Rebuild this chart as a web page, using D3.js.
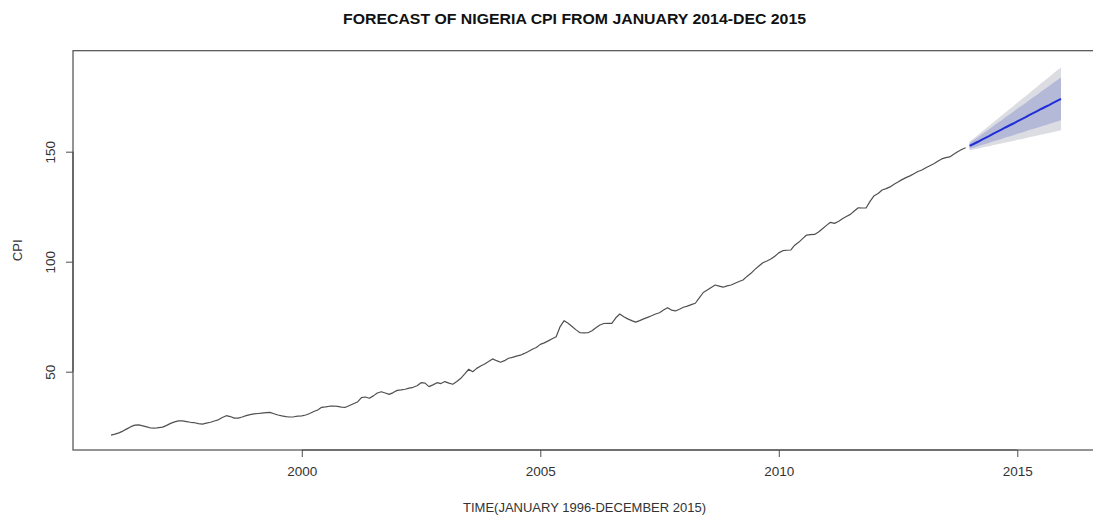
<!DOCTYPE html>
<html>
<head>
<meta charset="utf-8">
<script src="https://cdn.jsdelivr.net/npm/d3@7"></script>
<style>
  html, body { margin: 0; padding: 0; background: #fff; }
  svg { display: block; font-family: "Liberation Sans", Arial, sans-serif; }
</style>
</head>
<body>
<svg id="chart" width="1093" height="516"></svg>
<script>
// Monthly Nigeria CPI, January 1996 - December 2013
const startYear = 1996;
const cpiHistory = [
  // 1996
  21.2, 21.6, 22.2, 23.0, 24.0, 25.0, 25.7, 25.8, 25.4, 24.9, 24.4, 24.3,
  // 1997
  24.6, 24.8, 25.6, 26.5, 27.2, 27.6, 27.6, 27.3, 27.0, 26.8, 26.4, 26.2,
  // 1998
  26.6, 27.0, 27.6, 28.1, 29.2, 30.0, 29.6, 28.9, 28.9, 29.4, 30.0, 30.5,
  // 1999
  30.8, 31.0, 31.2, 31.4, 31.5, 30.9, 30.3, 29.9, 29.6, 29.4, 29.5, 29.8,
  // 2000
  29.9, 30.3, 31.0, 31.9, 32.6, 33.8, 34.0, 34.3, 34.4, 34.2, 33.9, 33.8,
  // 2001
  34.6, 35.4, 36.2, 38.2, 38.5, 37.9, 39.0, 40.3, 40.9, 40.3, 39.7, 40.5,
  // 2002
  41.5, 41.7, 42.0, 42.5, 42.9, 43.6, 45.0, 44.8, 43.2, 44.0, 45.0, 44.6,
  // 2003
  45.5, 44.8, 44.3, 45.5, 47.0, 49.0, 51.1, 50.0, 51.5, 52.6, 53.5, 54.6,
  // 2004
  55.8, 55.0, 54.3, 55.0, 56.1, 56.5, 57.1, 57.5, 58.3, 59.2, 60.2, 61.0,
  // 2005
  62.4, 63.1, 64.0, 65.0, 65.9, 70.5, 73.2, 72.0, 70.5, 69.0, 67.7, 67.6,
  // 2006
  67.7, 68.6, 70.0, 71.2, 71.9, 72.0, 72.0, 74.5, 76.2, 75.0, 74.0, 73.2,
  // 2007
  72.5, 73.2, 74.0, 74.7, 75.4, 76.2, 76.8, 78.0, 79.1, 78.0, 77.6, 78.4,
  // 2008
  79.3, 79.8, 80.5, 81.1, 83.5, 86.0, 87.1, 88.3, 89.4, 88.9, 88.4, 89.0,
  // 2009
  89.4, 90.2, 91.0, 91.7, 93.3, 94.7, 96.5, 98.0, 99.5, 100.3, 101.2, 102.5,
  // 2010
  104.0, 105.0, 105.2, 105.3, 107.5, 108.8, 110.5, 112.1, 112.3, 112.4, 113.5, 115.0,
  // 2011
  116.5, 117.9, 117.4, 118.3, 119.5, 120.5, 121.5, 123.0, 124.5, 124.4, 124.5, 127.5,
  // 2012
  130.0, 131.0, 132.6, 133.2, 134.0, 135.2, 136.2, 137.3, 138.2, 139.0, 140.0, 141.0,
  // 2013
  141.7, 142.7, 143.6, 144.5, 145.6, 146.7, 147.3, 147.6, 148.8, 150.0, 151.0, 151.8
];

// Point forecast and prediction intervals, January 2014 - December 2015
const forecastStart = 2014;
const forecastMean = [
  152.6, 153.5, 154.4, 155.4, 156.3, 157.2, 158.2, 159.1, 160.0, 161.0, 161.9, 162.8,
  163.8, 164.7, 165.6, 166.6, 167.5, 168.4, 169.4, 170.3, 171.2, 172.2, 173.1, 174.0
];
const lo80 = [
  151.3, 151.8, 152.4, 153.0, 153.5, 154.1, 154.7, 155.2, 155.8, 156.4, 156.9, 157.5,
  158.1, 158.6, 159.2, 159.8, 160.3, 160.9, 161.5, 162.0, 162.6, 163.2, 163.7, 164.3
];
const hi80 = [
  153.9, 155.2, 156.4, 157.8, 159.1, 160.3, 161.7, 163.0, 164.2, 165.6, 166.9, 168.1,
  169.5, 170.8, 172.0, 173.4, 174.7, 175.9, 177.3, 178.6, 179.8, 181.2, 182.5, 183.7
];
const lo95 = [
  150.6, 151.0, 151.3, 151.8, 152.2, 152.5, 153.0, 153.4, 153.7, 154.2, 154.5, 154.9,
  155.4, 155.7, 156.1, 156.6, 156.9, 157.3, 157.7, 158.1, 158.5, 158.9, 159.3, 159.7
];
const hi95 = [
  154.6, 156.0, 157.5, 159.0, 160.4, 161.9, 163.4, 164.8, 166.3, 167.8, 169.3, 170.7,
  172.2, 173.7, 175.1, 176.6, 178.1, 179.5, 181.1, 182.5, 183.9, 185.5, 186.9, 188.3
];

const xTicks = [2000, 2005, 2010, 2015];
const yTicks = [50, 100, 150];

const titleText = "FORECAST OF NIGERIA CPI FROM JANUARY 2014-DEC 2015";
const xLabel = "TIME(JANUARY 1996-DECEMBER 2015)";
const yLabel = "CPI";

// ---- layout ----
const plot = { left: 73, right: 1099, top: 50.7, bottom: 450 };
const svg = d3.select("#chart");
const fontFamily = "Liberation Sans, Arial, sans-serif";

const histPts = cpiHistory.map((v, i) => ({ t: startYear + i / 12, v }));
const fcPts = forecastMean.map((v, i) => ({
  t: forecastStart + i / 12, v,
  l80: lo80[i], h80: hi80[i], l95: lo95[i], h95: hi95[i]
}));

// time axis padded 4% on each side of the data span
const tMin = histPts[0].t, tMax = fcPts[fcPts.length - 1].t;
const tPad = (tMax - tMin) * 0.04;
const x = d3.scaleLinear().domain([tMin - tPad, tMax + tPad]).range([plot.left, plot.right]);
const y = d3.scaleLinear().domain([14.4, 195.9]).range([plot.bottom, plot.top]);

// prediction bands
const band = (lo, hi) => d3.area().x(d => x(d.t)).y0(d => y(d[lo])).y1(d => y(d[hi]));
svg.append("path").datum(fcPts).attr("d", band("l95", "h95")).attr("fill", "#dcdde3");
svg.append("path").datum(fcPts).attr("d", band("l80", "h80")).attr("fill", "#b5b9d8");

// observed series
const line = d3.line().x(d => x(d.t)).y(d => y(d.v));
svg.append("path").datum(histPts).attr("d", line)
  .attr("fill", "none").attr("stroke", "#505050").attr("stroke-width", 1.2)
  .attr("stroke-linejoin", "round");

// point forecast
svg.append("path").datum(fcPts).attr("d", line)
  .attr("fill", "none").attr("stroke", "#1f2ed8").attr("stroke-width", 2);

// box
svg.append("rect")
  .attr("x", plot.left).attr("y", plot.top)
  .attr("width", plot.right - plot.left).attr("height", plot.bottom - plot.top)
  .attr("fill", "none").attr("stroke", "#4d4d4d").attr("stroke-width", 1.2);

// axes
const xAxis = d3.axisBottom(x).tickValues(xTicks).tickFormat(d3.format("d")).tickSize(7).tickPadding(9);
const gx = svg.append("g").attr("transform", `translate(0,${plot.bottom})`).call(xAxis);
gx.select(".domain").attr("stroke", "#4d4d4d").attr("stroke-width", 1.2)
  .attr("d", `M${x(xTicks[0])},0H${x(xTicks[xTicks.length - 1])}`);
gx.selectAll(".tick line").attr("stroke", "#4d4d4d");
gx.selectAll(".tick text").attr("font-size", 13.5).attr("fill", "#333")
  .attr("font-family", fontFamily);

const yAxis = d3.axisLeft(y).tickValues(yTicks).tickSize(7).tickPadding(0);
const gy = svg.append("g").attr("transform", `translate(${plot.left},0)`).call(yAxis);
gy.select(".domain").attr("stroke", "#4d4d4d").attr("stroke-width", 1.2)
  .attr("d", `M0,${y(yTicks[0])}V${y(yTicks[yTicks.length - 1])}`);
gy.selectAll(".tick line").attr("stroke", "#4d4d4d");
gy.selectAll(".tick text")
  .attr("font-size", 13.5).attr("fill", "#333")
  .attr("font-family", fontFamily)
  .attr("x", null).attr("dy", null)
  .attr("text-anchor", "middle")
  .attr("transform", "translate(-18,0) rotate(-90)");

// titles
svg.append("text")
  .attr("x", 574.5).attr("y", 24)
  .attr("text-anchor", "middle").attr("font-weight", "bold")
  .attr("font-size", 15).attr("fill", "#111")
  .attr("textLength", 463).attr("lengthAdjust", "spacingAndGlyphs")
  .text(titleText);

svg.append("text")
  .attr("x", 584.5).attr("y", 512)
  .attr("text-anchor", "middle").attr("font-size", 13).attr("fill", "#333")
  .text(xLabel);

svg.append("text")
  .attr("transform", `translate(22,${(plot.top + plot.bottom) / 2}) rotate(-90)`)
  .attr("text-anchor", "middle").attr("font-size", 13).attr("fill", "#333")
  .text(yLabel);
</script>
</body>
</html>
